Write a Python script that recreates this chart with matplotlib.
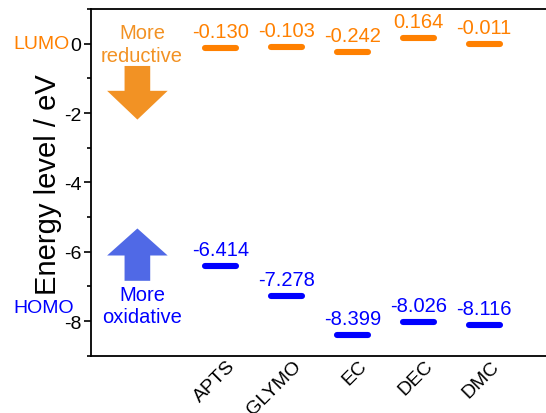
import matplotlib
matplotlib.use("Agg")
import matplotlib.pyplot as plt
from matplotlib.patches import Polygon
from matplotlib.transforms import ScaledTranslation
from matplotlib.ticker import MultipleLocator

plt.rcParams['font.family'] = ['Liberation Sans', 'DejaVu Sans']
plt.rcParams['axes.unicode_minus'] = False

molecules = ["APTS", "GLYMO", "EC", "DEC", "DMC"]
lumo = [-0.130, -0.103, -0.242, 0.164, -0.011]
homo = [-6.414, -7.278, -8.399, -8.026, -8.116]
lumo_labels = ["-0.130", "-0.103", "-0.242", "0.164", "-0.011"]
homo_labels = ["-6.414", "-7.278", "-8.399", "-8.026", "-8.116"]

ORANGE = "#FF8000"
ORANGE_ARROW = "#F29224"
BLUE = "#0000FF"
BLUE_ARROW = "#5069E6"

fig = plt.figure(figsize=(5.46, 4.14), dpi=100)
ax = fig.add_axes([91/546, 1 - 356.7/414, 455/546, (356.7 - 10)/414])

xs = list(range(1, len(molecules) + 1))
hw = 0.236
ax.hlines(lumo, [x - hw for x in xs], [x + hw for x in xs], colors=ORANGE,
          linewidth=4.4, capstyle='round', zorder=3)
ax.hlines(homo, [x - hw for x in xs], [x + hw for x in xs], colors=BLUE,
          linewidth=4.4, capstyle='round', zorder=3)

for x, v, t in zip(xs, lumo, lumo_labels):
    ax.annotate(t, (x, v), xytext=(0, 5), textcoords='offset points',
                ha='center', va='bottom', color=ORANGE, fontsize=14.5)
for x, v, t in zip(xs, homo, homo_labels):
    ax.annotate(t, (x, v), xytext=(0, 5), textcoords='offset points',
                ha='center', va='bottom', color=BLUE, fontsize=14.5)

# Arrows (annotation shapes)
cx = -0.27
sw, hwid = 0.195, 0.46
down = [(cx - sw, -0.643), (cx + sw, -0.643), (cx + sw, -1.36), (cx + hwid, -1.36),
        (cx, -2.19), (cx - hwid, -1.36), (cx - sw, -1.36)]
up = [(cx - sw, -6.84), (cx + sw, -6.84), (cx + sw, -6.11), (cx + hwid, -6.11),
      (cx, -5.33), (cx - hwid, -6.11), (cx - sw, -6.11)]
ax.add_patch(Polygon(down, closed=True, facecolor=ORANGE_ARROW, edgecolor='none', zorder=2))
ax.add_patch(Polygon(up, closed=True, facecolor=BLUE_ARROW, edgecolor='none', zorder=2))

ax.text(-0.20, 0.0, "More\nreductive", ha='center', va='center', color=ORANGE_ARROW,
        fontsize=14.5, linespacing=1.25)
ax.text(-0.20, -7.55, "More\noxidative", ha='center', va='center', color=BLUE,
        fontsize=14.5, linespacing=1.25)

ytr = ax.get_yaxis_transform()
ax.text(-0.046, 0.0, "LUMO", transform=ytr, ha='right', va='center', color=ORANGE,
        fontsize=14, clip_on=False)
ax.text(-0.037, -7.6, "HOMO", transform=ytr, ha='right', va='center', color=BLUE,
        fontsize=14, clip_on=False)

ax.set_xlim(-0.975, 5.94)
ax.set_ylim(-9, 1)
ax.yaxis.set_major_locator(MultipleLocator(2))
ax.yaxis.set_minor_locator(MultipleLocator(1))
ax.tick_params(axis='y', which='major', length=5, width=1.2, labelsize=14, pad=2)
ax.tick_params(axis='y', which='minor', length=3, width=1.2)
ax.set_xticks(xs)
ax.set_xticklabels(molecules, rotation=45, ha='right', fontsize=14)
ax.tick_params(axis='x', length=0, pad=1)
for lab in ax.get_xticklabels():
    lab.set_transform(lab.get_transform() + ScaledTranslation(0.18, 0, fig.dpi_scale_trans))

ax.set_ylabel("Energy level / eV", fontsize=21)
ax.yaxis.set_label_coords(-0.064, 0.497)

for s in ['left', 'top', 'bottom']:
    ax.spines[s].set_linewidth(1.3)
ax.spines['right'].set_visible(False)

fig.savefig("out.png", dpi=100)
